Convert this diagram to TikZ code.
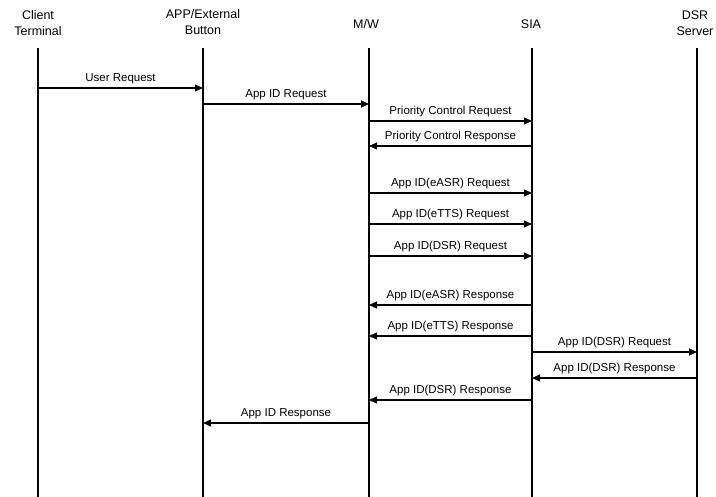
\documentclass[tikz,border=0pt]{standalone}
\usepackage{fontspec}
\setmainfont{Liberation Sans}
\usetikzlibrary{arrows.meta}
\begin{document}
\begin{tikzpicture}[x=1pt,y=-1pt,
  life/.style={line width=2.6pt},
  msg/.style={line width=1.1pt,-{Triangle[length=8pt,width=7pt]}},
  hdr/.style={align=center,font=\fontsize{12.5}{16}\selectfont,inner sep=0pt},
  lbl/.style={font=\fontsize{11.5}{13}\selectfont,anchor=south,inner sep=0pt,yshift=4pt}]
\useasboundingbox (0,0) rectangle (716,497);
% lifeline tops
\coordinate (cl) at (38,48);
\coordinate (ap) at (203,48);
\coordinate (mw) at (369,48);
\coordinate (sia) at (532,48);
\coordinate (dsr) at (697,48);
% headers
\node[hdr] (hcl) at (38,23) {Client\\Terminal};
\node[hdr] (hap) at (203,22) {APP/External\\Button};
\node[hdr] (hmw) at (366,24) {M/W};
\node[hdr] (hsia) at (531,24) {SIA};
\node[hdr] (hdsr) at (695,23) {DSR\\Server};
% lifelines
\foreach \n in {cl,ap,mw,sia,dsr} \draw[life] (\n) -- (\n |- 0,497);
% messages
\draw[msg] (cl |- 0,88) -- node[lbl]{User Request} (ap |- 0,88);
\draw[msg] (ap |- 0,104) -- node[lbl]{App ID Request} (mw |- 0,104);
\draw[msg] (mw |- 0,121) -- node[lbl]{Priority Control Request} (sia |- 0,121);
\draw[msg] (sia |- 0,146) -- node[lbl]{Priority Control Response} (mw |- 0,146);
\draw[msg] (mw |- 0,193) -- node[lbl]{App ID(eASR) Request} (sia |- 0,193);
\draw[msg] (mw |- 0,224) -- node[lbl]{App ID(eTTS) Request} (sia |- 0,224);
\draw[msg] (mw |- 0,256) -- node[lbl]{App ID(DSR) Request} (sia |- 0,256);
\draw[msg] (sia |- 0,305) -- node[lbl]{App ID(eASR) Response} (mw |- 0,305);
\draw[msg] (sia |- 0,336) -- node[lbl]{App ID(eTTS) Response} (mw |- 0,336);
\draw[msg] (sia |- 0,352) -- node[lbl]{App ID(DSR) Request} (dsr |- 0,352);
\draw[msg] (dsr |- 0,378) -- node[lbl]{App ID(DSR) Response} (sia |- 0,378);
\draw[msg] (sia |- 0,400) -- node[lbl]{App ID(DSR) Response} (mw |- 0,400);
\draw[msg] (mw |- 0,423) -- node[lbl]{App ID Response} (ap |- 0,423);
\end{tikzpicture}
\end{document}
